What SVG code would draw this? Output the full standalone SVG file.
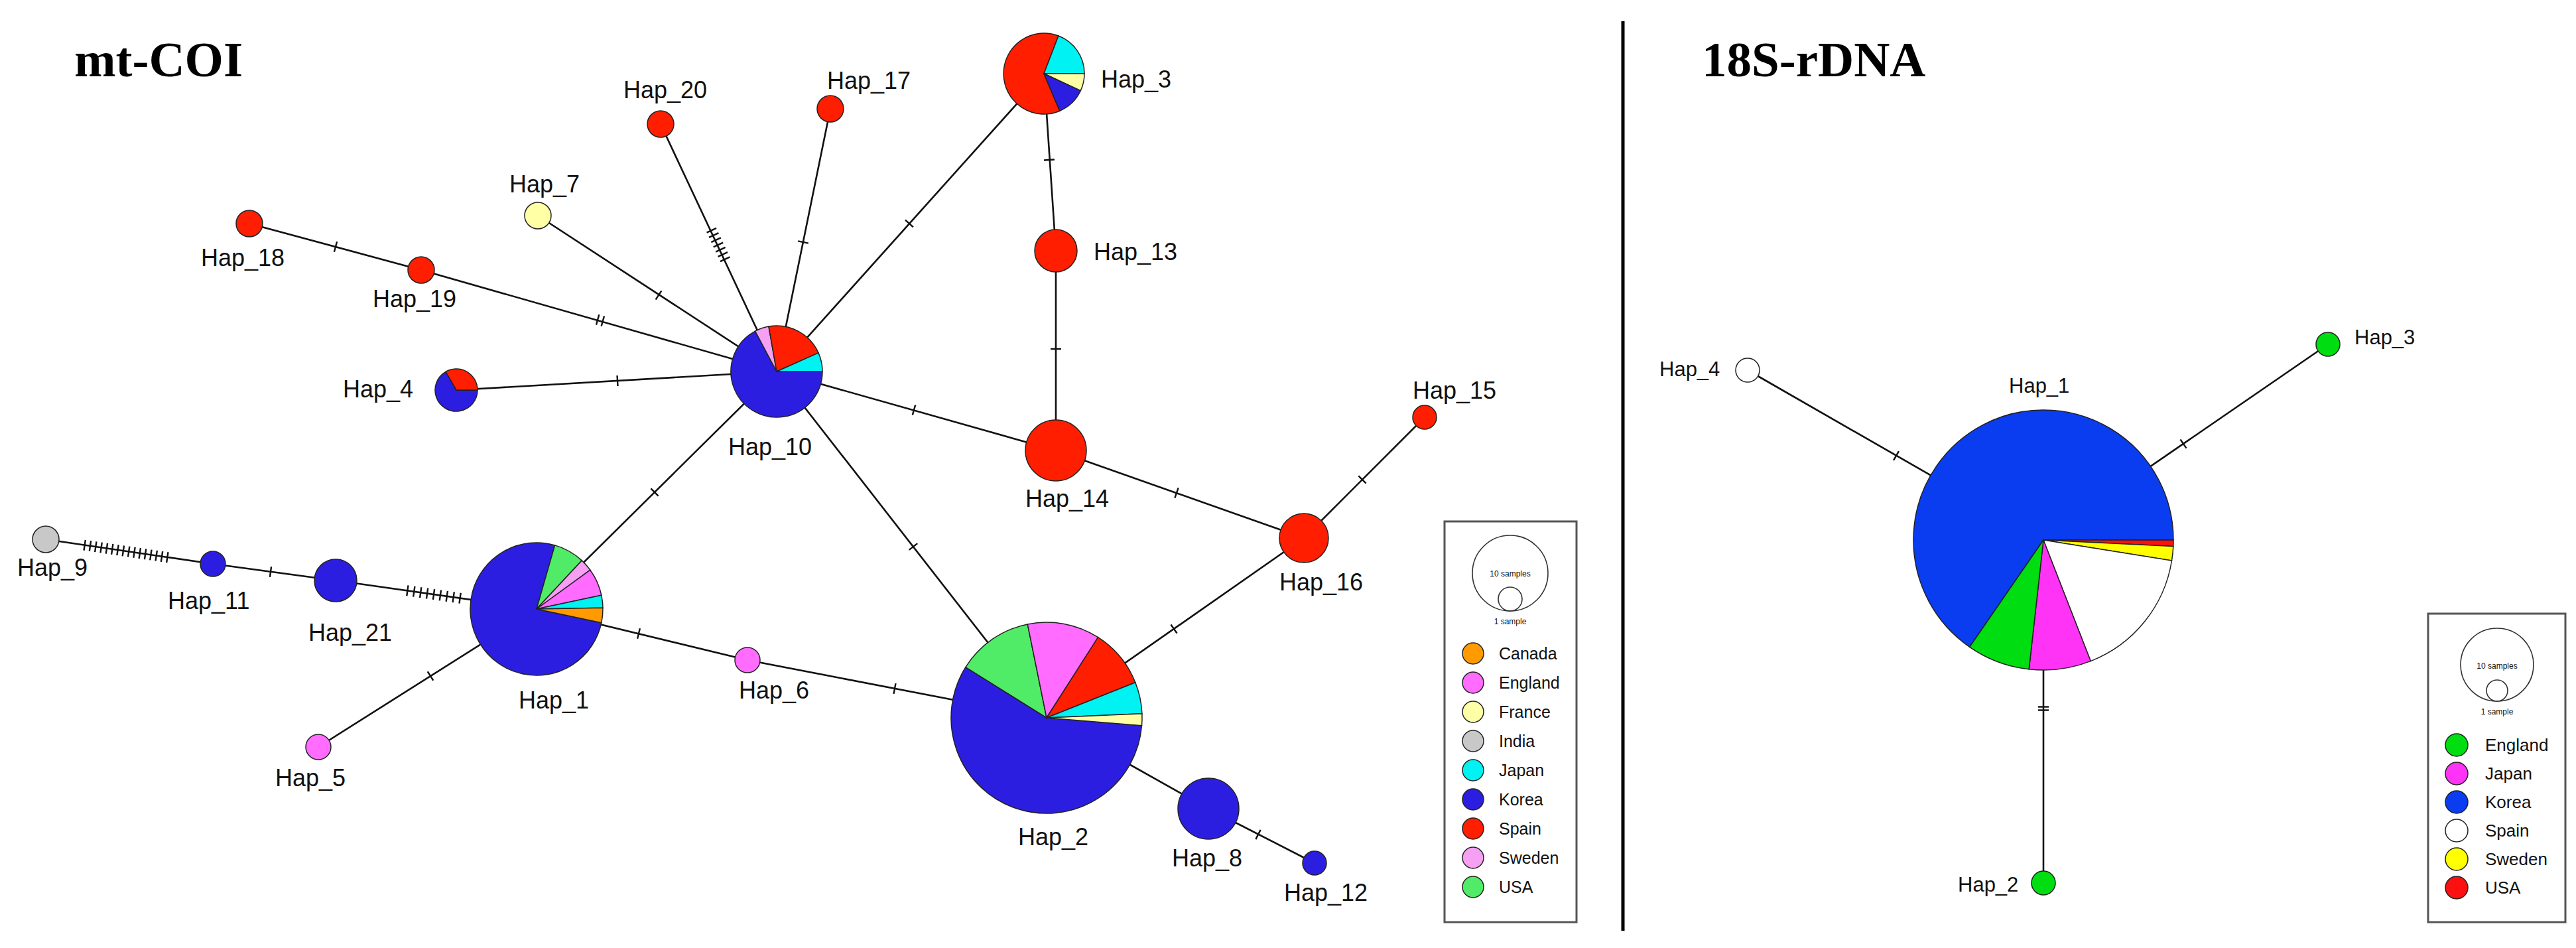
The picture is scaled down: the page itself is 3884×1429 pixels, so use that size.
<svg xmlns="http://www.w3.org/2000/svg" width="3884" height="1429" viewBox="0 0 3884 1429">
<style>
.e{stroke:#111;stroke-width:2.6;fill:none}
.tk{stroke:#111;stroke-width:2.4;fill:none}
.n{stroke:#222;stroke-width:1.5}
.lbl{font-family:"Liberation Sans",Arial,sans-serif;font-size:36px;fill:#111}
.l2{font-size:31px}
.title{font-family:"Liberation Serif","Times New Roman",serif;font-weight:bold;font-size:75px;fill:#000}
.lg{font-family:"Liberation Sans",Arial,sans-serif;fill:#111}
.box{fill:#fff;stroke:#555;stroke-width:3}
.sc{fill:none;stroke:#333;stroke-width:1.6}
.ca{fill:#FF9A00}.en{fill:#FF6CFF}.fr{fill:#FFFFA6}.in{fill:#C8C8C8}.jp{fill:#00F2F2}.ko{fill:#2C1EE0}.sp{fill:#FF1E00}.sw{fill:#F5A0F2}.us{fill:#50EC68}
.g{fill:#00DD11}.m{fill:#FF33F5}.b{fill:#0A3CF0}.w{fill:#fff}.y{fill:#FFFF00}.r{fill:#FF1010}
</style>
<defs>
<path id="tk" class="tk" d="M0,-8V8"/>
</defs>
<rect width="3884" height="1429" fill="#fff"/>
<text class="title" x="112" y="115">mt-COI</text>
<text class="title" x="2566" y="115">18S-rDNA</text>
<line x1="2447" y1="32" x2="2447" y2="1403" stroke="#000" stroke-width="5"/>

<g id="connectors">
<line class="e" x1="376" y1="337" x2="635" y2="407"/>
<line class="e" x1="635" y1="407" x2="1171" y2="560"/>
<line class="e" x1="811" y1="325" x2="1171" y2="560"/>
<line class="e" x1="996" y1="187" x2="1171" y2="560"/>
<line class="e" x1="1252" y1="164" x2="1171" y2="560"/>
<line class="e" x1="1574" y1="111" x2="1171" y2="560"/>
<line class="e" x1="688" y1="588" x2="1171" y2="560"/>
<line class="e" x1="1171" y1="560" x2="1592" y2="679"/>
<line class="e" x1="1171" y1="560" x2="809" y2="918"/>
<line class="e" x1="1171" y1="560" x2="1578" y2="1082"/>
<line class="e" x1="1574" y1="111" x2="1592" y2="378"/>
<line class="e" x1="1592" y1="378" x2="1592" y2="679"/>
<line class="e" x1="1592" y1="679" x2="1966" y2="811"/>
<line class="e" x1="1966" y1="811" x2="2148" y2="629"/>
<line class="e" x1="1578" y1="1082" x2="1966" y2="811"/>
<line class="e" x1="1578" y1="1082" x2="1822" y2="1219"/>
<line class="e" x1="1822" y1="1219" x2="1982" y2="1301"/>
<line class="e" x1="809" y1="918" x2="1127" y2="995"/>
<line class="e" x1="1127" y1="995" x2="1578" y2="1082"/>
<line class="e" x1="809" y1="918" x2="480" y2="1126"/>
<line class="e" x1="506" y1="875" x2="809" y2="918"/>
<line class="e" x1="321" y1="850" x2="506" y2="875"/>
<line class="e" x1="69" y1="813" x2="321" y2="850"/>
<line class="e" x1="2635" y1="558" x2="3081" y2="814"/>
<line class="e" x1="3510" y1="519" x2="3081" y2="814"/>
<line class="e" x1="3081" y1="814" x2="3081" y2="1331"/>

<use href="#tk" transform="translate(506,372) rotate(15.1)"/>
<g transform="translate(905,483) rotate(15.9)"><use href="#tk" x="-4"/><use href="#tk" x="4"/></g>
<use href="#tk" transform="translate(993,445) rotate(33.1)"/>
<g transform="translate(1083,369) rotate(64.9)"><use href="#tk" x="-24"/><use href="#tk" x="-16"/><use href="#tk" x="-8"/><use href="#tk"/><use href="#tk" x="8"/><use href="#tk" x="16"/><use href="#tk" x="24"/></g>
<use href="#tk" transform="translate(1211,365) rotate(101.6)"/>
<use href="#tk" transform="translate(1371,337) rotate(131.9)"/>
<use href="#tk" transform="translate(931,574) rotate(-3.3)"/>
<use href="#tk" transform="translate(1378,618) rotate(15.8)"/>
<use href="#tk" transform="translate(987,742) rotate(135.3)"/>
<use href="#tk" transform="translate(1377,824) rotate(52.1)"/>
<use href="#tk" transform="translate(1582,241) rotate(86.1)"/>
<use href="#tk" transform="translate(1592,526) rotate(90)"/>
<use href="#tk" transform="translate(1774,743) rotate(19.4)"/>
<use href="#tk" transform="translate(2054,723) rotate(-45)"/>
<use href="#tk" transform="translate(1770,948) rotate(-34.9)"/>
<use href="#tk" transform="translate(1897,1258) rotate(27.1)"/>
<use href="#tk" transform="translate(963,955) rotate(13.6)"/>
<use href="#tk" transform="translate(1349,1038) rotate(10.9)"/>
<use href="#tk" transform="translate(649,1019) rotate(147.7)"/>
<g transform="translate(654,896) rotate(8.1)"><use href="#tk" x="-40"/><use href="#tk" x="-30"/><use href="#tk" x="-20"/><use href="#tk" x="-10"/><use href="#tk"/><use href="#tk" x="10"/><use href="#tk" x="20"/><use href="#tk" x="30"/><use href="#tk" x="40"/></g>
<use href="#tk" transform="translate(408,862) rotate(7.7)"/>
<g transform="translate(190,831) rotate(8.4)"><use href="#tk" x="-63"/><use href="#tk" x="-54.6"/><use href="#tk" x="-46.2"/><use href="#tk" x="-37.8"/><use href="#tk" x="-29.4"/><use href="#tk" x="-21"/><use href="#tk" x="-12.6"/><use href="#tk" x="-4.2"/><use href="#tk" x="4.2"/><use href="#tk" x="12.6"/><use href="#tk" x="21"/><use href="#tk" x="29.4"/><use href="#tk" x="37.8"/><use href="#tk" x="46.2"/><use href="#tk" x="54.6"/><use href="#tk" x="63"/></g>
<use href="#tk" transform="translate(2859,687) rotate(29.9)"/>
<use href="#tk" transform="translate(3292,669) rotate(145.5)"/>
<g transform="translate(3081,1068) rotate(90)"><use href="#tk" x="-2.5"/><use href="#tk" x="2.5"/></g>
</g>

<!-- mt-COI nodes -->
<g id="coi-hap1">
<path class="n ko" d="M809,918L906.8,938.8A100,100 0 1 1 836.6,821.9Z"/>
<path class="n us" d="M809,918L836.6,821.9A100,100 0 0 1 877.2,844.9Z"/>
<path class="n sw" d="M809,918L877.2,844.9A100,100 0 0 1 889.9,859.2Z"/>
<path class="n en" d="M809,918L889.9,859.2A100,100 0 0 1 906.8,897.2Z"/>
<path class="n jp" d="M809,918L906.8,897.2A100,100 0 0 1 909,916.3Z"/>
<path class="n ca" d="M809,918L909,916.3A100,100 0 0 1 906.8,938.8Z"/>
<text class="lbl" x="782" y="1068">Hap_1</text>
</g>
<g id="coi-hap2">
<path class="n ko" d="M1578,1082L1721.5,1093.8A144,144 0 1 1 1455.9,1005.7Z"/>
<path class="n us" d="M1578,1082L1455.9,1005.7A144,144 0 0 1 1549.3,940.9Z"/>
<path class="n en" d="M1578,1082L1549.3,940.9A144,144 0 0 1 1655.6,960.7Z"/>
<path class="n sp" d="M1578,1082L1655.6,960.7A144,144 0 0 1 1711.8,1028.8Z"/>
<path class="n jp" d="M1578,1082L1711.8,1028.8A144,144 0 0 1 1721.9,1075.7Z"/>
<path class="n fr" d="M1578,1082L1721.9,1075.7A144,144 0 0 1 1721.5,1093.8Z"/>
<text class="lbl" x="1535" y="1274">Hap_2</text>
</g>
<g id="coi-hap3">
<path class="n sp" d="M1574,111L1597.8,167.2A61,61 0 1 1 1595.9,54Z"/>
<path class="n jp" d="M1574,111L1595.9,54A61,61 0 0 1 1635,111Z"/>
<path class="n fr" d="M1574,111L1635,111A61,61 0 0 1 1629.3,136.8Z"/>
<path class="n ko" d="M1574,111L1629.3,136.8A61,61 0 0 1 1597.8,167.2Z"/>
<text class="lbl" x="1660" y="132">Hap_3</text>
</g>
<g id="coi-hap4">
<path class="n ko" d="M688,588L720,588A32,32 0 1 1 672,560.3Z"/>
<path class="n sp" d="M688,588L672,560.3A32,32 0 0 1 720,588Z"/>
<text class="lbl" x="517" y="599">Hap_4</text>
</g>
<g id="coi-hap5"><circle class="n en" cx="480" cy="1126" r="19"/><text class="lbl" x="415" y="1185">Hap_5</text></g>
<g id="coi-hap6"><circle class="n en" cx="1127" cy="995" r="19"/><text class="lbl" x="1114" y="1053">Hap_6</text></g>
<g id="coi-hap7"><circle class="n fr" cx="811" cy="325" r="20"/><text class="lbl" x="768" y="290">Hap_7</text></g>
<g id="coi-hap8"><circle class="n ko" cx="1822" cy="1219" r="46"/><text class="lbl" x="1767" y="1306">Hap_8</text></g>
<g id="coi-hap9"><circle class="n in" cx="69" cy="813" r="20"/><text class="lbl" x="26" y="868">Hap_9</text></g>
<g id="coi-hap10">
<path class="n ko" d="M1171,560L1240,560A69,69 0 1 1 1138.6,499.1Z"/>
<path class="n sw" d="M1171,560L1138.6,499.1A69,69 0 0 1 1159,492Z"/>
<path class="n sp" d="M1171,560L1159,492A69,69 0 0 1 1234,531.9Z"/>
<path class="n jp" d="M1171,560L1234,531.9A69,69 0 0 1 1240,560Z"/>
<text class="lbl" x="1098" y="686">Hap_10</text>
</g>
<g id="coi-hap11"><circle class="n ko" cx="321" cy="850" r="19"/><text class="lbl" x="253" y="918">Hap_11</text></g>
<g id="coi-hap12"><circle class="n ko" cx="1982" cy="1301" r="18"/><text class="lbl" x="1936" y="1358">Hap_12</text></g>
<g id="coi-hap13"><circle class="n sp" cx="1592" cy="378" r="32"/><text class="lbl" x="1649" y="392">Hap_13</text></g>
<g id="coi-hap14"><circle class="n sp" cx="1592" cy="679" r="46"/><text class="lbl" x="1546" y="764">Hap_14</text></g>
<g id="coi-hap15"><circle class="n sp" cx="2148" cy="629" r="18"/><text class="lbl" x="2130" y="601">Hap_15</text></g>
<g id="coi-hap16"><circle class="n sp" cx="1966" cy="811" r="37"/><text class="lbl" x="1929" y="890">Hap_16</text></g>
<g id="coi-hap17"><circle class="n sp" cx="1252" cy="164" r="20"/><text class="lbl" x="1247" y="134">Hap_17</text></g>
<g id="coi-hap18"><circle class="n sp" cx="376" cy="337" r="20"/><text class="lbl" x="303" y="401">Hap_18</text></g>
<g id="coi-hap19"><circle class="n sp" cx="635" cy="407" r="20"/><text class="lbl" x="562" y="463">Hap_19</text></g>
<g id="coi-hap20"><circle class="n sp" cx="996" cy="187" r="20"/><text class="lbl" x="940" y="148">Hap_20</text></g>
<g id="coi-hap21"><circle class="n ko" cx="506" cy="875" r="32"/><text class="lbl" x="465" y="966">Hap_21</text></g>

<!-- mt-COI legend -->
<g id="coi-legend">
<rect class="box" x="2178" y="786" width="199" height="604"/>
<circle class="sc" cx="2277" cy="864" r="57"/>
<circle class="sc" cx="2277" cy="903" r="18"/>
<text class="lg" x="2277" y="869" font-size="12" text-anchor="middle">10 samples</text>
<text class="lg" x="2277" y="941" font-size="12" text-anchor="middle">1 sample</text>
<g font-size="25">
<circle class="n ca" cx="2221" cy="985" r="16"/><text class="lg" x="2260" y="994">Canada</text>
<circle class="n en" cx="2221" cy="1029" r="16"/><text class="lg" x="2260" y="1038">England</text>
<circle class="n fr" cx="2221" cy="1073" r="16"/><text class="lg" x="2260" y="1082">France</text>
<circle class="n in" cx="2221" cy="1117" r="16"/><text class="lg" x="2260" y="1126">India</text>
<circle class="n jp" cx="2221" cy="1161" r="16"/><text class="lg" x="2260" y="1170">Japan</text>
<circle class="n ko" cx="2221" cy="1205" r="16"/><text class="lg" x="2260" y="1214">Korea</text>
<circle class="n sp" cx="2221" cy="1249" r="16"/><text class="lg" x="2260" y="1258">Spain</text>
<circle class="n sw" cx="2221" cy="1293" r="16"/><text class="lg" x="2260" y="1302">Sweden</text>
<circle class="n us" cx="2221" cy="1337" r="16"/><text class="lg" x="2260" y="1346">USA</text>
</g>
</g>

<!-- 18S-rDNA nodes -->
<g id="s18-hap1">
<path class="n b" d="M3081,814L2969.7,975.3A196,196 0 1 1 3277,814Z"/>
<path class="n r" d="M3081,814L3277,814A196,196 0 0 1 3276.8,823.6Z"/>
<path class="n y" d="M3081,814L3276.8,823.6A196,196 0 0 1 3274.5,845Z"/>
<path class="n w" d="M3081,814L3274.5,845A196,196 0 0 1 3152.2,996.6Z"/>
<path class="n m" d="M3081,814L3152.2,996.6A196,196 0 0 1 3059.2,1008.8Z"/>
<path class="n g" d="M3081,814L3059.2,1008.8A196,196 0 0 1 2969.7,975.3Z"/>
<text class="lbl l2" x="3029" y="592">Hap_1</text>
</g>
<g id="s18-hap2"><circle class="n g" cx="3081" cy="1331" r="18"/><text class="lbl l2" x="2952" y="1344">Hap_2</text></g>
<g id="s18-hap3"><circle class="n g" cx="3510" cy="519" r="18"/><text class="lbl l2" x="3550" y="519">Hap_3</text></g>
<g id="s18-hap4"><circle class="n w" cx="2635" cy="558" r="18"/><text class="lbl l2" x="2502" y="567">Hap_4</text></g>

<!-- 18S legend -->
<g id="s18-legend">
<rect class="box" x="3661" y="925" width="207" height="465"/>
<circle class="sc" cx="3765" cy="1002" r="55"/>
<circle class="sc" cx="3765" cy="1041" r="16"/>
<text class="lg" x="3765" y="1008" font-size="12" text-anchor="middle">10 samples</text>
<text class="lg" x="3765" y="1077" font-size="12" text-anchor="middle">1 sample</text>
<g font-size="26">
<circle class="n g" cx="3704" cy="1123" r="17"/><text class="lg" x="3747" y="1132">England</text>
<circle class="n m" cx="3704" cy="1166" r="17"/><text class="lg" x="3747" y="1175">Japan</text>
<circle class="n b" cx="3704" cy="1209" r="17"/><text class="lg" x="3747" y="1218">Korea</text>
<circle class="n w" cx="3704" cy="1252" r="17"/><text class="lg" x="3747" y="1261">Spain</text>
<circle class="n y" cx="3704" cy="1295" r="17"/><text class="lg" x="3747" y="1304">Sweden</text>
<circle class="n r" cx="3704" cy="1338" r="17"/><text class="lg" x="3747" y="1347">USA</text>
</g>
</g>
</svg>
